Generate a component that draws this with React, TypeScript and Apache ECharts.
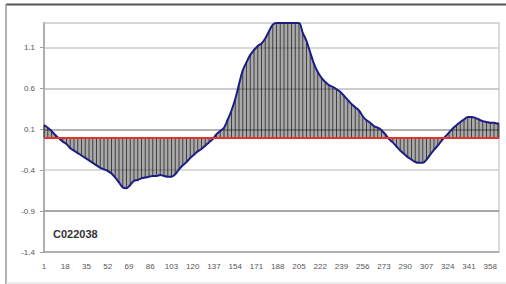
import React, { useEffect, useRef } from "react";
import * as echarts from "echarts";

// Day index (0-based) of each sample
const dayIndex = [
  0, 3, 6, 9, 12, 15, 18, 21, 24, 27, 30, 33, 36, 39, 42, 45, 48, 51, 54, 57,
  60, 63, 66, 69, 72, 75, 78, 81, 84, 87, 90, 93, 96, 99, 102, 105, 108, 111, 114, 117,
  120, 123, 126, 129, 132, 135, 138, 141, 144, 147, 150, 153, 156, 159, 162, 165, 168, 171, 174, 177,
  180, 183, 186, 189, 192, 195, 198, 201, 204, 207, 210, 213, 216, 219, 222, 225, 228, 231, 234, 237,
  240, 243, 246, 249, 252, 255, 258, 261, 264, 267, 270, 273, 276, 279, 282, 285, 288, 291, 294, 297,
  300, 303, 306, 309, 312, 315, 318, 321, 324, 327, 330, 333, 336, 339, 342, 345, 348, 351, 354, 357,
  360, 363, 364,
];

const values = [
  0.15, 0.12, 0.08, 0.03, -0.01, -0.05, -0.08, -0.13, -0.16, -0.19, -0.22, -0.25, -0.28, -0.31, -0.34, -0.37, -0.39, -0.41, -0.44, -0.49,
  -0.55, -0.61, -0.62, -0.58, -0.53, -0.52, -0.5, -0.49, -0.48, -0.47, -0.47, -0.46, -0.47, -0.48, -0.48, -0.45, -0.39, -0.34, -0.3, -0.25,
  -0.21, -0.17, -0.14, -0.1, -0.06, -0.02, 0.04, 0.08, 0.12, 0.22, 0.33, 0.47, 0.65, 0.82, 0.92, 1.01, 1.07, 1.12, 1.15, 1.21,
  1.3, 1.38, 1.4, 1.4, 1.4, 1.4, 1.4, 1.4, 1.4, 1.28, 1.18, 1.04, 0.9, 0.8, 0.73, 0.68, 0.64, 0.62, 0.59, 0.56,
  0.51, 0.46, 0.41, 0.37, 0.33, 0.26, 0.21, 0.18, 0.14, 0.12, 0.09, 0.04, -0.02, -0.06, -0.11, -0.16, -0.2, -0.24, -0.27, -0.3,
  -0.31, -0.31, -0.27, -0.21, -0.15, -0.1, -0.04, 0.01, 0.06, 0.11, 0.15, 0.19, 0.22, 0.25, 0.25, 0.24, 0.22, 0.2, 0.19, 0.18,
  0.18, 0.17, 0.17,
];

const xTickLabels = [
  "1", "18", "35", "52", "69", "86", "103", "120", "137", "154", "171",
  "188", "205", "222", "239", "256", "273", "290", "307", "324", "341", "358",
];

const yTickLabels = ["-1.4", "-0.9", "-0.4", "0.1", "0.6", "1.1"];

const seriesName = "C022038";

export default function App() {
  const ref = useRef<HTMLDivElement>(null);

  useEffect(() => {
    if (!ref.current) return;
    const chart = echarts.init(ref.current, null, { renderer: "svg" });
    const data = dayIndex.map((d, i) => [d, values[i]]);
    const font = '"Liberation Sans", Arial, sans-serif';

    chart.setOption({
      animation: false,
      backgroundColor: "#ffffff",
      grid: {
        left: 44,
        top: 23,
        right: 7,
        bottom: 32,
        show: true,
        borderColor: "#d0d0d0",
        borderWidth: 1.5,
      },
      xAxis: {
        type: "value",
        min: 0,
        max: 364,
        interval: 17,
        axisLine: { show: true, lineStyle: { color: "#a0a0a0", width: 1.5 } },
        axisTick: { show: false },
        splitLine: { show: false },
        axisLabel: {
          margin: 10,
          fontSize: 8,
          fontFamily: font,
          color: "#555",
          showMaxLabel: false,
          formatter: (v: number) => {
            const i = v / 17;
            return Number.isInteger(i) && xTickLabels[i] !== undefined ? xTickLabels[i] : "";
          },
        },
      },
      yAxis: [
        {
          type: "value",
          min: -1.4,
          max: 1.4,
          show: false,
          splitLine: { show: false },
        },
        {
          type: "value",
          position: "left",
          min: 0,
          max: 2.8,
          interval: 0.5,
          axisLine: { show: true, lineStyle: { color: "#a0a0a0", width: 1.5 } },
          axisTick: { show: true, length: 4, lineStyle: { color: "#a0a0a0" } },
          axisLabel: {
            margin: 9,
            fontSize: 8,
            fontFamily: font,
            color: "#555",
            showMaxLabel: false,
            formatter: (v: number) => {
              const i = Math.round(v / 0.5);
              return Math.abs(v / 0.5 - i) < 1e-6 && yTickLabels[i] !== undefined ? yTickLabels[i] : "";
            },
          },
          splitLine: {
            show: true,
            lineStyle: {
              color: ["#a0a0a0", "#8a8a8a", "#cfcfcf", "#9a9a9a", "#bdbdbd", "#cdcdcd", "#d5d5d5"],
              width: 1.5,
            },
          },
        },
      ],
      series: [
        {
          type: "line",
          data,
          smooth: 0.35,
          showSymbol: false,
          lineStyle: { width: 0, opacity: 0 },
          areaStyle: { color: "rgba(30,30,30,0.55)" },
          z: 1,
          silent: true,
        },
        {
          type: "bar",
          data,
          barWidth: 1,
          itemStyle: { color: "rgba(0,0,0,0.62)" },
          z: 2,
          silent: true,
        },
        {
          name: seriesName,
          type: "line",
          data,
          smooth: 0.35,
          showSymbol: false,
          lineStyle: { color: "#1c1c86", width: 2 },
          z: 3,
          markLine: {
            silent: true,
            symbol: ["none", "none"],
            label: { show: false },
            lineStyle: { color: "#e8322a", width: 2, type: "solid" },
            data: [{ yAxis: 0 }],
          },
        },
      ],
      graphic: [
        {
          type: "line",
          shape: { x1: 6, y1: 4.5, x2: 506, y2: 4.5 },
          style: { stroke: "#555", lineWidth: 2 },
        },
        {
          type: "line",
          shape: { x1: 6, y1: 4, x2: 6, y2: 284 },
          style: { stroke: "#9a9a9a", lineWidth: 1.5 },
        },
        {
          type: "line",
          shape: { x1: 6, y1: 283, x2: 506, y2: 283 },
          style: { stroke: "#dddddd", lineWidth: 1 },
        },
        {
          type: "text",
          left: 53,
          top: 228,
          style: {
            text: seriesName,
            font: 'bold 11px "Liberation Sans", Arial, sans-serif',
            fill: "#333",
          },
        },
      ],
    });

    return () => chart.dispose();
  }, []);

  return (
    <div
      ref={ref}
      style={{ position: "fixed", left: 0, top: 0, width: 506, height: 284, background: "#fff" }}
    />
  );
}
